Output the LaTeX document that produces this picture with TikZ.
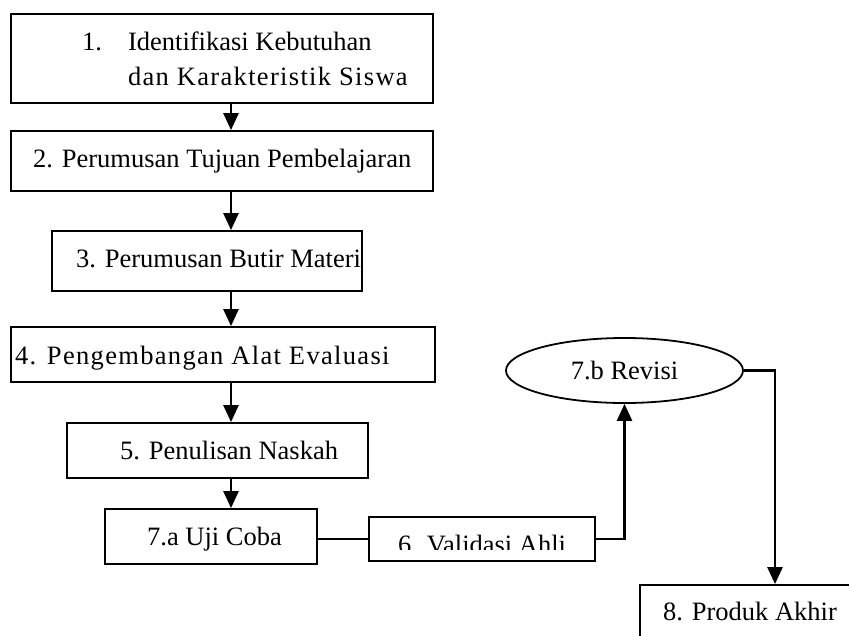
\documentclass[tikz,border=0pt]{standalone}
\usepackage{fontspec}
\setmainfont{Liberation Serif}
\usetikzlibrary{arrows.meta,shapes.geometric}

\begin{document}
\begin{tikzpicture}[x=1pt,y=-1pt]
\tikzstyle{box}=[draw,line width=1.8pt,inner sep=0pt]
\tikzstyle{txt}=[inner sep=0pt,anchor=base west,font=\fontsize{26.5}{35}\selectfont]
\tikzstyle{arr}=[line width=2.6pt,-{Triangle[length=17pt,width=15pt]}]
\useasboundingbox (0,0) rectangle (849,635);
\clip (0,0) rectangle (849,635);
\node[box,minimum width=422,minimum height=89] at (222,58.5) (b1) {};
\node[box,minimum width=422,minimum height=60] at (222,161) (b2) {};
\node[box,minimum width=310,minimum height=60] at (207,261) (b3) {};
\node[box,minimum width=424,minimum height=55] at (223,354.5) (b4) {};
\node[box,minimum width=301,minimum height=55] at (217.5,450.5) (b5) {};
\node[box,minimum width=212,minimum height=55] at (211,536.5) (b7a) {};
\node[box,minimum width=226,minimum height=44] at (482,539) (b6) {};
\node[box,ellipse,minimum width=237,minimum height=65,font=\fontsize{26.5}{35}\selectfont] at (624.5,370.5) (e7b) {7.b Revisi};
\node[box,minimum width=230,minimum height=55] at (755,612.5) (b8) {};
\node[txt] at (82,50) (t1) {\begin{tabular}[t]{@{}l@{\hspace{26pt}}l@{}}1.&Identifikasi Kebutuhan\\&\addfontfeature{LetterSpace=5}dan Karakteristik Siswa\end{tabular}};
\node[txt] at (33,167) (t2) {2. Perumusan Tujuan Pembelajaran};
\node[txt] at (76,267) (t3) {3. Perumusan Butir Materi};
\node[txt] at (15,364) (t4) {\addfontfeature{LetterSpace=5}4. Pengembangan Alat Evaluasi};
\node[txt] at (120,459) (t5) {5. Penulisan Naskah};
\node[txt] at (147,545) (t7a) {7.a Uji Coba};
\node[txt] at (663,620) (t8) {8. Produk Akhir};
\begin{scope}
\clip (369,517) rectangle (595,549);
\node[txt] at (398,553) (t6) {6. Validasi Ahli};
\end{scope}
\coordinate (ax) at (231,0);
\draw[arr] (b1.south -| ax) -- (b2.north -| ax);
\draw[arr] (b2.south -| ax) -- (b3.north -| ax);
\draw[arr] (b3.south -| ax) -- (b4.north -| ax);
\draw[arr] (b4.south -| ax) -- (b5.north -| ax);
\draw[arr] (b5.south -| ax) -- (b7a.north -| ax);
\draw[line width=2.6pt] (b6.west -| b7a.east) -- (b6.west);
\draw[arr] (b6.east) -| (e7b.south);
\draw[arr] (e7b.east) -| ([xshift=20pt]b8.north);
\end{tikzpicture}
\end{document}
